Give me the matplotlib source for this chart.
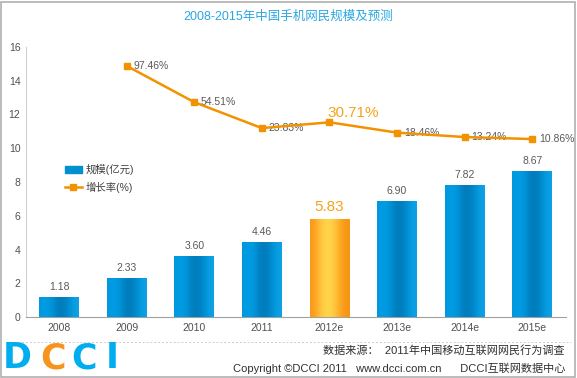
import matplotlib
matplotlib.use("Agg")
import matplotlib.pyplot as plt
import numpy as np
from matplotlib.patches import Rectangle

plt.rcParams['font.family'] = ['Liberation Sans', 'Noto Sans CJK SC', 'DejaVu Sans']

categories = ['2008', '2009', '2010', '2011', '2012e', '2013e', '2014e', '2015e']
scale = [1.18, 2.33, 3.60, 4.46, 5.83, 6.90, 7.82, 8.67]
growth = [None, 97.46, 54.51, 23.83, 30.71, 18.46, 13.24, 10.86]
highlight = 4

fig = plt.figure(figsize=(5.77, 3.78), dpi=100)
fig.patch.set_facecolor('white')
ax = fig.add_axes([0.045, 0.161, 0.936, 0.715])
x = np.arange(len(categories))
bw = 0.59

bars = ax.bar(x, scale, width=bw, color='#0090d0', zorder=2)
blue_grad = np.array([[0.0, 0.60, 0.88], [0.0, 0.62, 0.90], [0.0, 0.56, 0.83],
                      [0.0, 0.48, 0.72], [0.0, 0.50, 0.75], [0.0, 0.58, 0.85], [0.05, 0.63, 0.90]])
orange_grad = np.array([[0.98, 0.60, 0.10], [1.0, 0.72, 0.20], [1.0, 0.82, 0.28],
                        [1.0, 0.84, 0.30], [1.0, 0.76, 0.22], [0.98, 0.64, 0.12], [0.97, 0.58, 0.08]])
for i, b in enumerate(bars):
    g = orange_grad if i == highlight else blue_grad
    img = g[np.newaxis, :, :]
    x0, y0 = b.get_x(), b.get_y()
    im = ax.imshow(img, extent=[x0, x0 + b.get_width(), y0, y0 + b.get_height()],
                   aspect='auto', interpolation='bicubic', zorder=3)
    im.set_clip_path(b)
    if i == highlight:
        ax.text(x[i], scale[i] + 0.3, f'{scale[i]:.2f}', ha='center', va='bottom',
                fontsize=11, color='#f7a21b', zorder=5)
    else:
        ax.text(x[i], scale[i] + 0.3, f'{scale[i]:.2f}', ha='center', va='bottom',
                fontsize=7.5, color='#595959', zorder=5)

ax.set_xlim(-0.49, 7.5)
ax.set_ylim(0, 16)
ax.set_yticks(range(0, 17, 2))
ax.set_xticks(x)
ax.set_xticklabels(categories)
ax.tick_params(axis='both', length=0, labelsize=7.5, colors='#505050', pad=4)
for s in ['top', 'right']:
    ax.spines[s].set_visible(False)
ax.spines['left'].set_color('#d0d0d0')
ax.spines['bottom'].set_color('#a0a0a0')

ax2 = ax.twinx()
ax2.set_ylim(-200, 120)
ax2.axis('off')
gx = [xi for xi, g in zip(x, growth) if g is not None]
gy = [g for g in growth if g is not None]
ax2.plot(gx, gy, color='#f39200', lw=1.8, marker='s', ms=5, zorder=4)
for xi, g in zip(gx, gy):
    if xi == highlight:
        ax2.text(xi - 0.03, g + 2.5, f'{g:.2f}%', ha='left', va='bottom', fontsize=11, color='#f7a21b')
    else:
        ax2.text(xi + 0.1, g, f'{g:.2f}%', ha='left', va='center', fontsize=7.5, color='#595959')

# legend
lh = [plt.Rectangle((0, 0), 1, 1, color='#0090d0'),
      plt.Line2D([], [], color='#f39200', lw=1.8, marker='s', ms=4)]
ax.legend(lh, ['规模(亿元)', '增长率(%)'], loc='upper left', bbox_to_anchor=(0.055, 0.60),
          frameon=False, fontsize=7.5, handlelength=1.6, handletextpad=0.4,
          labelcolor='#404040', labelspacing=0.6)

fig.text(0.5, 0.955, '2008-2015年中国手机网民规模及预测', ha='center', va='center',
         fontsize=9, color='#2aa7e0')

# footer
fig.add_artist(plt.Line2D([0.01, 0.99], [0.094, 0.094], color='#cccccc', lw=0.7, ls=(0, (2, 2))))
fig.text(0.979, 0.072, '数据来源：  2011年中国移动互联网网民行为调查', ha='right', va='center',
         fontsize=8, color='#303030')
fig.text(0.979, 0.025, 'Copyright ©DCCI 2011   www.dcci.com.cn      DCCI互联网数据中心',
         ha='right', va='center', fontsize=8, color='#303030')
logo_x = [0.004, 0.070, 0.123, 0.183]
logo_c = ['#00aeef', '#f7941d', '#00aeef', '#00aeef']
for lx, ch, c in zip(logo_x, 'DCCI', logo_c):
    fig.text(lx, 0.052, ch, ha='left', va='center', fontsize=25, fontweight='bold',
             color=c, family='DejaVu Sans')

fig.add_artist(Rectangle((0.002, 0.003), 0.994, 0.992, transform=fig.transFigure,
                         fill=False, edgecolor='#b0b0b0', lw=1.2))

fig.savefig('out.png', dpi=100)
